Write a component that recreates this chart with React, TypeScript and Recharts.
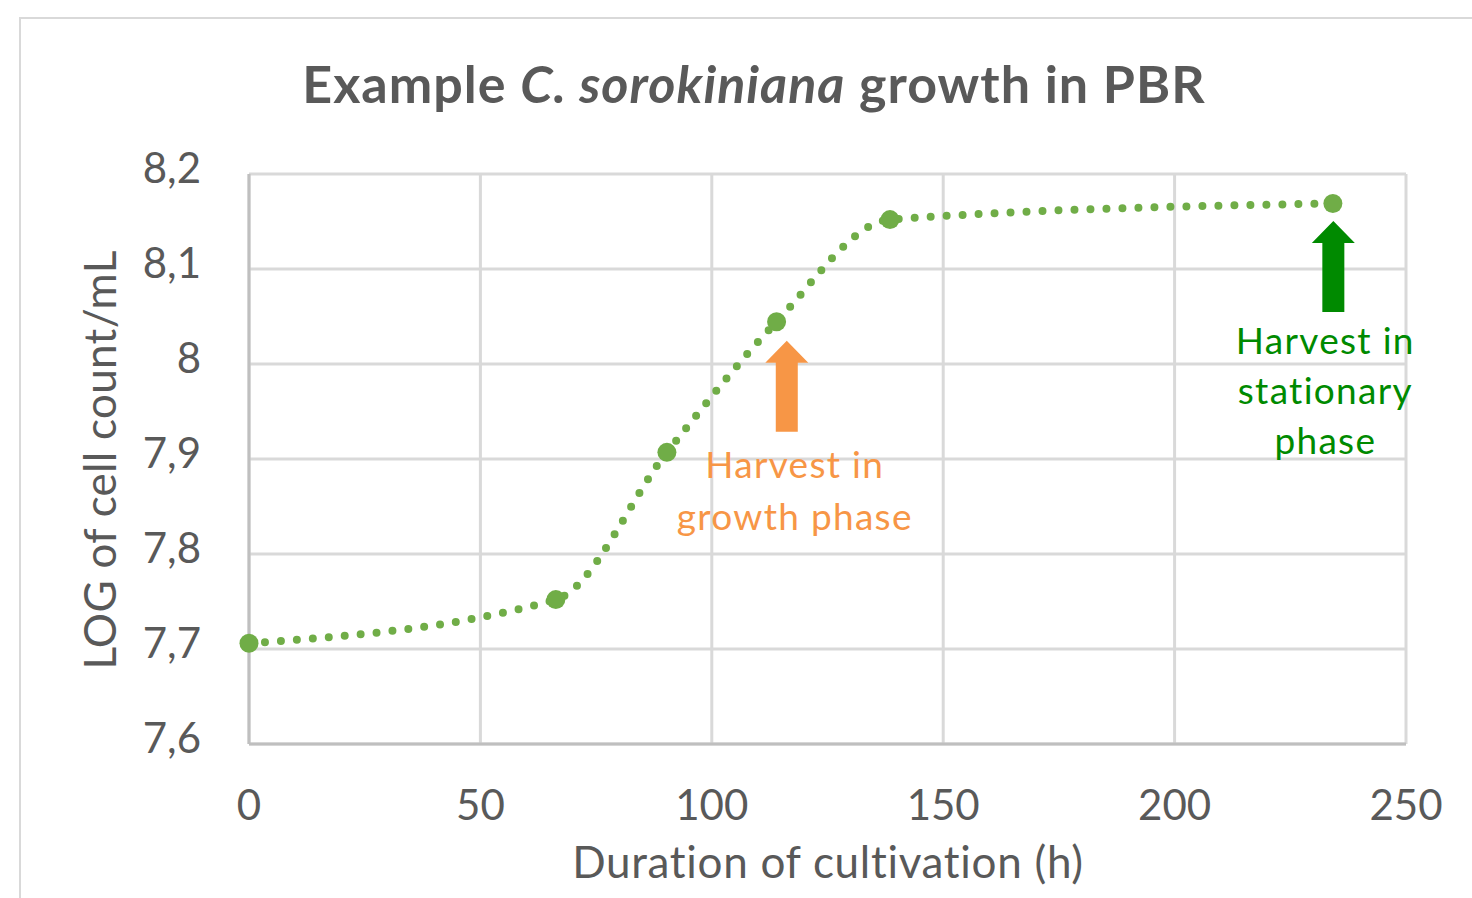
import React from 'react';
import {
  LineChart,
  Line,
  XAxis,
  YAxis,
  CartesianGrid,
  ReferenceDot,
} from 'recharts';

const hours = [0, 66.3, 90.3, 114.0, 138.5, 234.2];
const logCells = [7.706, 7.752, 7.907, 8.0445, 8.152, 8.169];
const xTicks = [0, 50, 100, 150, 200, 250];
const yTicks = [7.6, 7.7, 7.8, 7.9, 8.0, 8.1, 8.2];

const growthArrow = { x: 116.2, y: 8.0245 };
const stationaryArrow = { x: 234.3, y: 8.1506 };
const growthText = ['Harvest in', 'growth phase'];
const stationaryText = ['Harvest in', 'stationary', 'phase'];

const data = hours.map((h, i) => ({ h, v: logCells[i] }));

const FONT = 'Lato, "Open Sans", sans-serif';
const GRAY = '#595959';
const GREEN = '#70AD47';
const ORANGE = '#F79646';
const DARK_GREEN = '#008A00';

const fmt = (v: number) => String(Math.round(v * 10) / 10).replace('.', ',');

function makeArrow(color: string, lines: string[], textDx: number, firstBase: number, lineGap: number) {
  return (props: any) => {
    const { cx, cy } = props;
    if (cx == null || cy == null) return null;
    const pts = [
      [cx, cy],
      [cx + 21.5, cy + 22],
      [cx + 11, cy + 22],
      [cx + 11, cy + 91],
      [cx - 11, cy + 91],
      [cx - 11, cy + 22],
      [cx - 21.5, cy + 22],
    ]
      .map((p) => p.join(','))
      .join(' ');
    return (
      <g>
        <polygon points={pts} fill={color} />
        {lines.map((t, i) => (
          <text
            key={i}
            x={cx + textDx}
            y={cy + firstBase + i * lineGap}
            textAnchor="middle"
            fill={color}
            fontFamily={FONT}
            fontSize={37}
            letterSpacing={1.3}
          >
            {t}
          </text>
        ))}
      </g>
    );
  };
}

const GrowthShape = makeArrow(ORANGE, growthText, 8, 137, 52);
const StationaryShape = makeArrow(DARK_GREEN, stationaryText, -8, 133, 50);

export default function App() {
  return (
    <div
      style={{
        position: 'absolute',
        left: 0,
        top: 0,
        width: 1472,
        height: 898,
        overflow: 'hidden',
        background: '#fff',
      }}
    >
      <div
        style={{
          position: 'absolute',
          left: 19,
          top: 17,
          width: 1500,
          height: 950,
          border: '2px solid #d9d9d9',
        }}
      />
      <div style={{ position: 'absolute', left: 0, top: 0 }}>
        <LineChart
          width={1472}
          height={898}
          data={data}
          margin={{ top: 174, right: 66, left: 149, bottom: 24 }}
        >
          <CartesianGrid stroke="#d9d9d9" strokeWidth={3} />
          <XAxis
            dataKey="h"
            type="number"
            domain={[0, 250]}
            ticks={xTicks}
            height={130}
            axisLine={{ stroke: '#bfbfbf', strokeWidth: 3 }}
            tickLine={false}
            tickSize={0}
            tickMargin={46}
            tick={{ fill: GRAY, fontSize: 42, fontFamily: FONT }}
            interval={0}
          />
          <YAxis
            type="number"
            domain={[7.6, 8.2]}
            ticks={yTicks}
            width={100}
            axisLine={{ stroke: '#bfbfbf', strokeWidth: 3 }}
            tickLine={false}
            tickSize={0}
            tickMargin={48}
            tickFormatter={fmt}
            tick={{ fill: GRAY, fontSize: 42, fontFamily: FONT, dy: -6 }}
            interval={0}
          />
          <Line
            dataKey="v"
            type="monotone"
            stroke={GREEN}
            strokeWidth={8}
            strokeDasharray="0 16"
            strokeLinecap="round"
            dot={{ r: 9.5, fill: GREEN, stroke: 'none' }}
            activeDot={false}
            isAnimationActive={false}
          />
          <ReferenceDot
            x={growthArrow.x}
            y={growthArrow.y}
            r={0}
            shape={GrowthShape}
            ifOverflow="visible"
          />
          <ReferenceDot
            x={stationaryArrow.x}
            y={stationaryArrow.y}
            r={0}
            shape={StationaryShape}
            ifOverflow="visible"
          />
        </LineChart>
      </div>
      <svg
        width={1472}
        height={898}
        style={{ position: 'absolute', left: 0, top: 0, pointerEvents: 'none' }}
      >
        <text
          x={754}
          y={103}
          textAnchor="middle"
          fill={GRAY}
          fontFamily={FONT}
          fontSize={52}
          fontWeight="bold"
          letterSpacing={1}
        >
          Example <tspan fontStyle="italic">C. sorokiniana</tspan> growth in PBR
        </text>
        <text
          x={828}
          y={878}
          textAnchor="middle"
          fill={GRAY}
          fontFamily={FONT}
          fontSize={44}
          letterSpacing={0.7}
        >
          Duration of cultivation (h)
        </text>
        <text
          x={116}
          y={460}
          transform="rotate(-90 116 460)"
          textAnchor="middle"
          fill={GRAY}
          fontFamily={FONT}
          fontSize={44}
          letterSpacing={0.3}
        >
          LOG of cell count/mL
        </text>
      </svg>
    </div>
  );
}
